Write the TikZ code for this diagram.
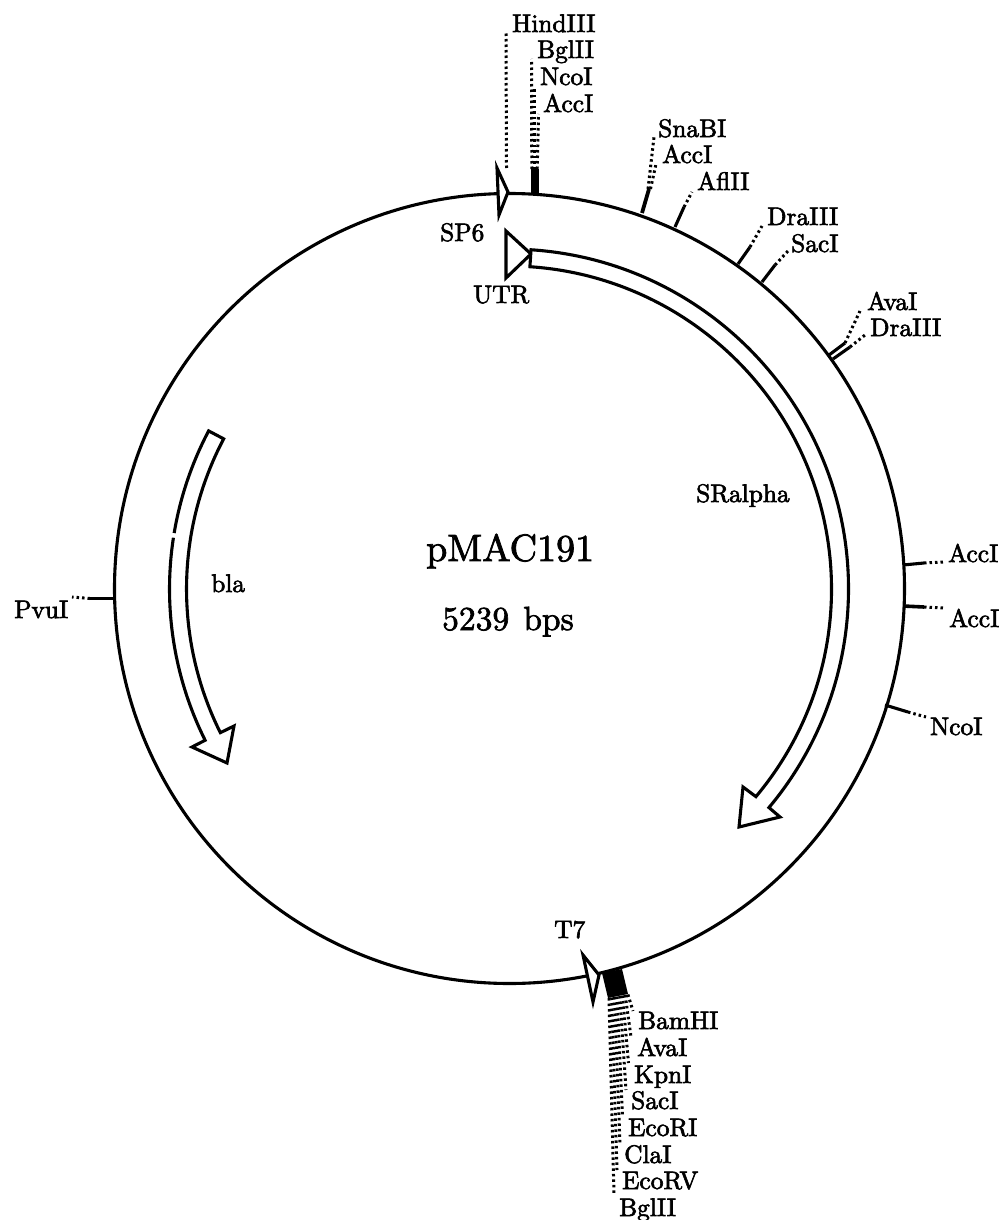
\documentclass[tikz,border=0pt]{standalone}
\font\labf="[lmroman10-regular]:embolden=2.4" at 25.4pt
\font\titlef="[lmroman10-regular]:embolden=2" at 38pt
\font\bpsf="[lmroman10-regular]:embolden=2" at 33.5pt
\tikzset{
  lab/.style={anchor=base west,inner sep=0pt,font=\labf,text=black},
  titlelab/.style={anchor=base west,inner sep=0pt,font=\titlef,text=black},
  bpslab/.style={anchor=base west,inner sep=0pt,font=\bpsf,text=black},
  ring/.style={draw=black,line width=3.1pt},
  tick/.style={draw=black,line width=3.1pt},
  dotline/.style={draw=black,line width=3pt,dash pattern=on 2.5pt off 3pt},
  band/.style={draw=black,line width=3.1pt,fill=white,line join=miter},
}
\begin{document}
\begin{tikzpicture}[x=1pt,y=-1pt]
\fill[white] (0,0) rectangle (1002,1220);
\path[use as bounding box] (0,0) rectangle (1002,1220);
\coordinate (C) at (509.5,588.5);
\coordinate (A) at (508.5,589);
% plasmid circle
\draw[ring] (C) circle[radius=395];

% top labels
\node[lab] (hind) at (512,32) {HindIII};
\node[lab] (bgl1) at (537,58) {BglII};
\node[lab] (nco1) at (540,85) {NcoI};
\node[lab] (acc1) at (543,112) {AccI};
\node[lab] (sna) at (658,137) {SnaBI};
\node[lab] (acc2) at (662,163) {AccI};
\node[lab] (afl) at (697,190) {AflII};
\node[lab] (dra1) at (767,225) {DraIII};
\node[lab] (sac1) at (791,252) {SacI};
\node[lab] (ava1) at (867,310) {AvaI};
\node[lab] (dra2) at (870,336) {DraIII};
\node[lab] (acc3) at (948,562) {AccI};
\node[lab] (acc4) at (949,627) {AccI};
\node[lab] (nco2) at (930,735) {NcoI};
\node[lab] (pvu) at (14,618) {PvuI};
% bottom labels
\node[lab] (bam) at (638,1029) {BamHI};
\node[lab] (ava2) at (637,1056) {AvaI};
\node[lab] (kpn) at (634,1083) {KpnI};
\node[lab] (sac2) at (631,1109) {SacI};
\node[lab] (eri) at (628,1136) {EcoRI};
\node[lab] (cla) at (624,1163) {ClaI};
\node[lab] (erv) at (622,1189) {EcoRV};
\node[lab] (bgl2) at (619,1216) {BglII};
% feature labels
\node[lab] (t7) at (554,938) {T7};
\node[lab] (sp6) at (440,241) {SP6};
\node[lab] (utr) at (473,303) {UTR};
\node[lab] (sra) at (696,502) {SRalpha};
\node[lab] (bla) at (211,592) {bla};
\node[titlelab] (name) at (426,561) {pMAC191};
\node[bpslab] (size) at (442,630) {5239\hspace{3pt} bps};

% HindIII site
\coordinate (hindb) at (506.5,168);
\coordinate (hinde) at (506,32);
\draw[dotline] (hindb) -- (hinde);
% top cluster
\coordinate (b1a) at (531.8,169);
\coordinate (b1b) at (534.5,169);
\coordinate (b1c) at (537.2,169);
\coordinate (e1a) at (531.5,59);
\coordinate (e1b) at (534.5,87);
\coordinate (e1c) at (538.5,114);
\draw[dotline] (b1a) -- (e1a);
\draw[dotline] (b1b) -- (e1b);
\draw[dotline] (b1c) -- (e1c);
\fill[black] (530.5,169) rectangle (538.5,193);

% SnaBI, AccI
\coordinate (s1) at (642,213);
\coordinate (s2) at (649,189);
\coordinate (s1e) at (654,137);
\coordinate (s2e) at (656,164);
\draw[line width=3.8pt] (s1) -- (s2);
\draw[dotline] (s2) ++(-1,0) -- (s1e);
\draw[dotline] (s2) ++(1.5,0) -- (s2e);
% AflII
\coordinate (a1) at (675,227);
\coordinate (a2) at (684,207);
\coordinate (a3) at (692,192);
\draw[tick] (a1) -- (a2);
\draw[dotline] (a2) -- (a3);
% DraIII
\coordinate (d1) at (738,264);
\coordinate (d2) at (750,247);
\coordinate (d3) at (762,226);
\draw[tick] (d1) -- (d2);
\draw[dotline] (d2) -- (d3);
% SacI
\coordinate (c1) at (762,282);
\coordinate (c2) at (775,265);
\coordinate (c3) at (788,251);
\draw[tick] (c1) -- (c2);
\draw[dotline] (c2) -- (c3);
% AvaI
\coordinate (v1) at (829,355);
\coordinate (v2) at (845,343);
\coordinate (v3) at (860,311);
\draw[tick] (v1) -- (v2);
\draw[dotline] (v2) -- (v3);
% DraIII second
\coordinate (r1) at (833,359);
\coordinate (r2) at (850,347);
\coordinate (r3) at (865,335);
\draw[tick] (r1) -- (r2);
\draw[dotline] (r2) -- (r3);
% right AccI sites
\coordinate (p1) at (903,565);
\coordinate (p2) at (924,563);
\coordinate (p3) at (945,562);
\draw[tick] (p1) -- (p2);
\draw[dotline] (p2) -- (p3);
\coordinate (q1) at (903,606);
\coordinate (q2) at (924,607);
\coordinate (q3) at (945,608);
\draw[line width=3.6pt] (q1) -- (q2);
\draw[dotline] (q2) -- (q3);
% NcoI
\coordinate (n1) at (885,705);
\coordinate (n2) at (908,712);
\coordinate (n3) at (926,717);
\draw[tick] (n1) -- (n2);
\draw[dotline] (n2) -- (n3);
% PvuI
\coordinate (u1) at (114,598.5);
\coordinate (u2) at (90,598.5);
\coordinate (u3) at (72,597);
\draw[tick] (u1) -- (u2);
\draw[dotline] (u2) -- (u3);

% bottom cluster
\coordinate (t0) at (609,998);
\coordinate (t1) at (611.7,997.5);
\coordinate (t2) at (614.4,997);
\coordinate (t3) at (617.1,996.5);
\coordinate (t4) at (619.8,996);
\coordinate (t5) at (622.5,995.5);
\coordinate (t6) at (625.2,995);
\coordinate (t7b) at (627.9,994.5);
\coordinate (z0) at (614,1195);
\coordinate (z1) at (617,1170);
\coordinate (z2) at (620,1144);
\coordinate (z3) at (622.5,1117);
\coordinate (z4) at (626,1090);
\coordinate (z5) at (628.5,1063);
\coordinate (z6) at (631,1037);
\coordinate (z7) at (633,1011);
\draw[dotline] (t0) -- (z0);
\draw[dotline] (t1) -- (z1);
\draw[dotline] (t2) -- (z2);
\draw[dotline] (t3) -- (z3);
\draw[dotline] (t4) -- (z4);
\draw[dotline] (t5) -- (z5);
\draw[dotline] (t6) -- (z6);
\draw[dotline] (t7b) -- (z7);
\fill[black] (602,973) -- (622,969) -- (628,994) -- (608,998) -- cycle;

% promoter triangles
\coordinate (sp6a) at (497,168);
\coordinate (sp6b) at (508,192);
\coordinate (sp6c) at (499,215);
\draw[band] (sp6a) -- (sp6b) -- (sp6c) -- cycle;
\coordinate (t7a) at (583,955);
\coordinate (t7c) at (599,975);
\coordinate (t7d) at (593,1002);
\draw[band] (t7a) -- (t7c) -- (t7d) -- cycle;

% UTR triangle
\coordinate (utra) at (506,231);
\coordinate (utrb) at (531,254);
\coordinate (utrc) at (506,278);
\draw[band] (utra) -- (utrb) -- (utrc) -- cycle;

% SRalpha arrow
\coordinate (sh1) at (780,817);
\coordinate (tip1) at (739,827);
\coordinate (sh2) at (743,787);
\draw[band] ([shift={(-86.2:340)}]A) arc[start angle=-86.2,end angle=40,radius=340]
  -- (sh1) -- (tip1) -- (sh2) -- ([shift={(40:323)}]A)
  arc[start angle=40,end angle=-86.2,radius=323] -- cycle;

% bla arrow
\coordinate (sh3) at (234,726);
\coordinate (tip2) at (227,763);
\coordinate (sh4) at (192,747);
\draw[band] ([shift={(188.7:339)}]A) arc[start angle=188.7,end angle=153.5,radius=339]
  -- (sh4) -- (tip2) -- (sh3) -- ([shift={(153.5:322)}]A)
  arc[start angle=153.5,end angle=207.8,radius=322]
  -- ([shift={(207.8:339)}]A) arc[start angle=207.8,end angle=189.5,radius=339];
\end{tikzpicture}
\end{document}
